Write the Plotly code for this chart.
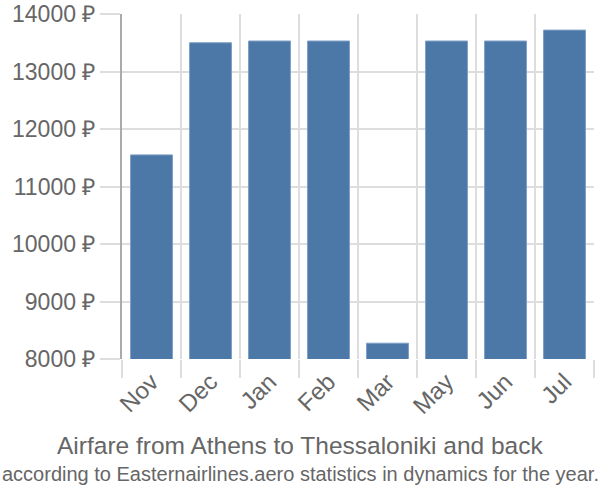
import plotly.graph_objects as go

months = ["Nov", "Dec", "Jan", "Feb", "Mar", "May", "Jun", "Jul"]
prices = [11550, 13500, 13530, 13530, 8275, 13530, 13530, 13720]
y_ticks = [8000, 9000, 10000, 11000, 12000, 13000, 14000]
y_labels = [f"{v} ₽" for v in y_ticks]
title = "Airfare from Athens to Thessaloniki and back"
subtitle = "according to Easternairlines.aero statistics in dynamics for the year."

font = "Liberation Sans, Arial, sans-serif"

fig = go.Figure(go.Bar(
    x=months, y=prices,
    marker=dict(color="#4c78a8", line=dict(color="#7d9ec4", width=1)),
    width=0.71,
))

W, H = 600, 500
ML, MR, MT, MB = 122, 6, 14, 141
plot_w = W - ML - MR
plot_h = H - MT - MB

def px_to_paper_y(py):
    return (H - MB - py) / plot_h

cx = (W / 2 - ML) / plot_w

fig.update_layout(
    width=W, height=H,
    margin=dict(l=ML, r=MR, t=MT, b=MB, autoexpand=False),
    plot_bgcolor="white", paper_bgcolor="white",
    showlegend=False,
    font=dict(family=font, color="#666"),
    xaxis=dict(
        tickson="boundaries", showgrid=True, gridcolor="#ddd", gridwidth=2,
        ticks="outside", ticklen=18, tickcolor="#ddd", tickwidth=2,
        tickangle=-45, tickfont=dict(size=24, color="#666"),
        ticklabelstandoff=3,
        showline=False, zeroline=False, automargin=False,
    ),
    yaxis=dict(
        range=[8000, 14000], tickvals=y_ticks, ticktext=y_labels,
        showgrid=True, gridcolor="#ddd", gridwidth=2,
        ticks="outside", ticklen=20, tickcolor="#ddd", tickwidth=2,
        tickfont=dict(size=23, color="#666"),
        showline=True, linecolor="#aaa", linewidth=2,
        zeroline=False, automargin=False,
    ),
    annotations=[
        dict(text=title, x=cx, y=px_to_paper_y(446), xref="paper", yref="paper",
             showarrow=False, yanchor="middle",
             font=dict(size=24.5, color="#666", family=font)),
        dict(text=subtitle, x=cx, y=px_to_paper_y(474), xref="paper", yref="paper",
             showarrow=False, yanchor="middle",
             font=dict(size=20, color="#666", family=font)),
    ],
)

fig.write_html("out.html")
